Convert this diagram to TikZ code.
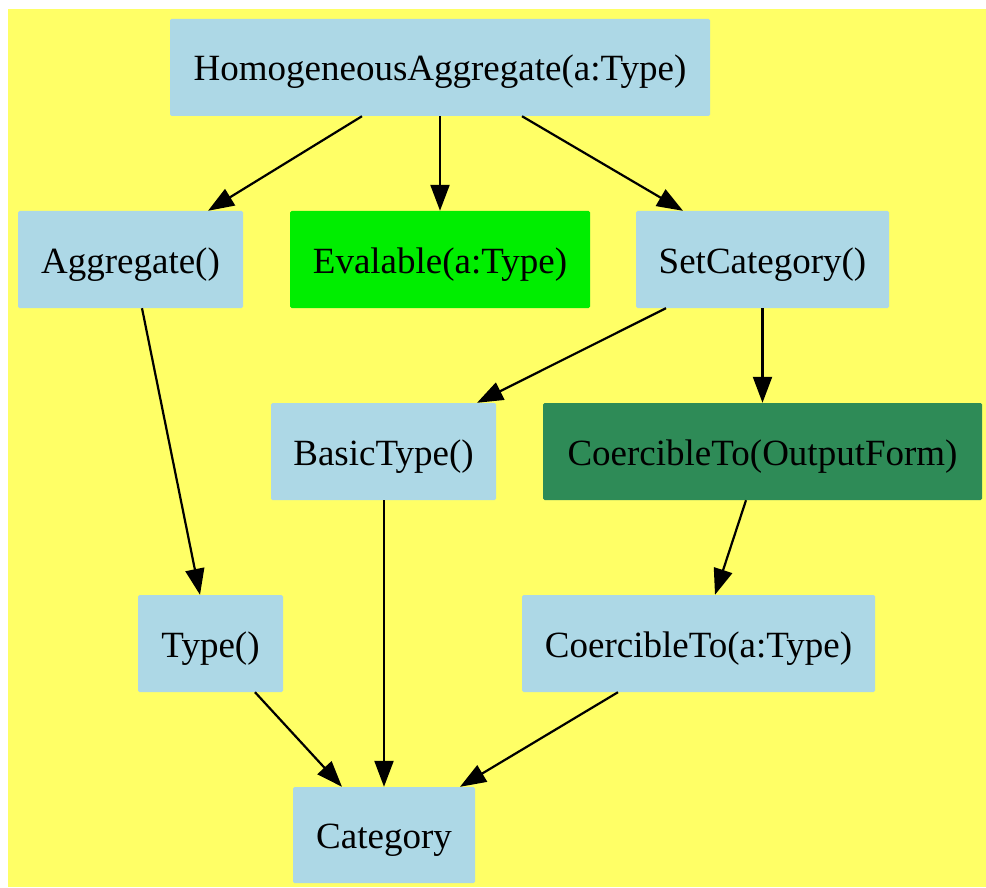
\documentclass[tikz,border=0pt]{standalone}
\usepackage{fontspec}
\setmainfont{Liberation Serif}
\usetikzlibrary{arrows.meta}
\definecolor{bgyellow}{HTML}{FFFF66}
\definecolor{lblue}{HTML}{ADD8E6}
\definecolor{lgreen}{HTML}{00EE00}
\definecolor{sgreen}{HTML}{2E8B57}
\tikzset{
  box/.style={fill=lblue, rounded corners=1.5pt, inner sep=0pt, anchor=center,
    text height=31pt, text depth=4pt,
    font=\fontsize{37}{44}\selectfont, text=black},
  edge/.style={draw=black, line width=2.2pt, -{Triangle[length=26pt,width=19pt]}}
}
\begin{document}
\begin{tikzpicture}[x=1pt,y=-1pt]
\useasboundingbox (0,0) rectangle (986,888);
\fill[white] (0,0) rectangle (986,888);
\fill[bgyellow] (8,9) rectangle (986,887);

\node[box, minimum width=540pt, minimum height=97pt] (ha) at (440,67.5) {HomogeneousAggregate(a:Type)};
\node[box, minimum width=225pt, minimum height=97pt] (agg) at (130.5,259.5) {Aggregate()};
\node[box, fill=lgreen, minimum width=300pt, minimum height=97pt] (eval) at (440,259.5) {Evalable(a:Type)};
\node[box, minimum width=253pt, minimum height=97pt] (set) at (762.5,259.5) {SetCategory()};
\node[box, minimum width=225pt, minimum height=97pt] (basic) at (383.5,451.5) {BasicType()};
\node[box, fill=sgreen, minimum width=439pt, minimum height=97pt] (cof) at (762.5,451.5) {CoercibleTo(OutputForm)};
\node[box, minimum width=145pt, minimum height=97pt] (type) at (210.5,643.5) {Type()};
\node[box, minimum width=353pt, minimum height=97pt] (cat) at (698.5,643.5) {CoercibleTo(a:Type)};
\node[box, minimum width=182pt, minimum height=96pt] (category) at (384,835) {Category};

\draw[edge] ([xshift=-78pt]ha.south) -- ([xshift=77.5pt]agg.north);
\draw[edge] (ha.south) -- (eval.north);
\draw[edge] ([xshift=82pt]ha.south) -- ([xshift=-79.5pt]set.north);
\draw[edge] ([xshift=11.5pt]agg.south) -- ([xshift=-10.5pt]type.north);
\draw[edge] ([xshift=-96.5pt]set.south) -- ([xshift=93.5pt]basic.north);
\draw[edge] (set.south) -- (cof.north);
\draw[edge] ([xshift=0.5pt]basic.south) -- (category.north);
\draw[edge] ([xshift=-16.5pt]cof.south) -- ([xshift=16.5pt]cat.north);
\draw[edge] ([xshift=44.5pt]type.south) -- ([xshift=-42pt]category.north);
\draw[edge] ([xshift=-80.5pt]cat.south) -- ([xshift=76pt]category.north);
\end{tikzpicture}
\end{document}
